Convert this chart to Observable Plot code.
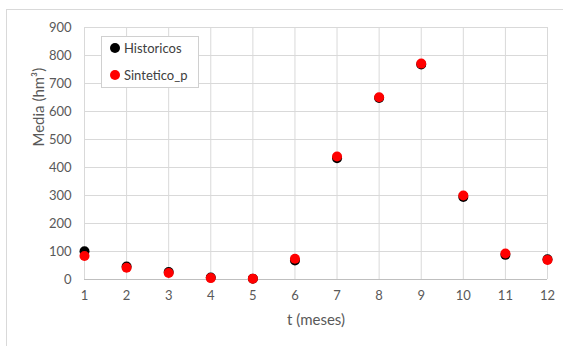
<!DOCTYPE html>
<html>
<head>
<meta charset="utf-8">
<script src="https://cdn.jsdelivr.net/npm/d3@7"></script>
<script src="https://cdn.jsdelivr.net/npm/@observablehq/plot@0.6"></script>
<style>
  html, body { margin: 0; padding: 0; background: #fff; }
  #wrap { position: relative; width: 563px; height: 346px; overflow: hidden; font-family: Lato, "Open Sans", sans-serif; }
  #frame { position: absolute; left: 6px; top: 9px; width: 600px; height: 400px; border: 1px solid #d9d9d9; box-sizing: border-box; }
  #chart { position: absolute; left: 0; top: 0; }
  #legend { position: absolute; left: 101px; top: 36px; width: 98px; height: 52px; border: 1px solid #d0d0d0; background: #fff; box-sizing: border-box; font-size: 13px; color: #404040; }
  .item { position: absolute; left: 8px; display: flex; align-items: center; white-space: nowrap; }
  .dot { width: 10px; height: 10px; border-radius: 50%; margin-right: 4px; }
</style>
</head>
<body>
<div id="wrap">
  <div id="frame"></div>
  <div id="chart"></div>
  <div id="legend"></div>
</div>
<script>
const months = [1, 2, 3, 4, 5, 6, 7, 8, 9, 10, 11, 12];
const historicos = [101, 46, 27, 7, 3, 68, 433, 648, 768, 295, 88, 72];
const sintetico = [84, 42, 23, 5, 3, 74, 439, 651, 771, 300, 93, 70];
const yTicks = [0, 100, 200, 300, 400, 500, 600, 700, 800, 900];
const seriesNames = ["Historicos", "Sintetico_p"];
const seriesColors = ["#000000", "#ff0000"];
const xTitle = "t (meses)";
const yTitle = "Media (hm³)";

const histData = months.map((m, i) => ({t: m, v: historicos[i]}));
const sintData = months.map((m, i) => ({t: m, v: sintetico[i]}));

const chart = Plot.plot({
  width: 563,
  height: 346,
  marginLeft: 84,
  marginRight: 16,
  marginTop: 27,
  marginBottom: 67,
  style: { fontFamily: "Lato, 'Open Sans', sans-serif", fontSize: "13px", color: "#595959", background: "transparent" },
  x: { domain: [1, 12] },
  y: { domain: [0, 900] },
  marks: [
    Plot.ruleX(months, { stroke: "#d9d9d9", strokeOpacity: 1 }),
    Plot.ruleY(yTicks.slice(1), { stroke: "#d9d9d9", strokeOpacity: 1 }),
    Plot.ruleY([0], { stroke: "#bfbfbf", strokeOpacity: 1 }),
    Plot.axisX({ ticks: months, tickSize: 0, tickPadding: 11, fontSize: 13, fill: "#595959", label: null }),
    Plot.axisY({ ticks: yTicks, tickSize: 0, tickPadding: 13, fontSize: 13, fill: "#595959", label: null }),
    Plot.text([xTitle], { frameAnchor: "bottom", dy: 41, fontSize: 15, fill: "#595959", lineAnchor: "middle" }),
    Plot.text([yTitle], { frameAnchor: "left", dx: -45, dy: -7, rotate: -90, fontSize: 15, fill: "#595959", lineAnchor: "middle" }),
    Plot.dot(histData, { x: "t", y: "v", r: 5, fill: seriesColors[0], stroke: "none" }),
    Plot.dot(sintData, { x: "t", y: "v", r: 5, fill: seriesColors[1], stroke: "none" })
  ]
});
document.getElementById("chart").appendChild(chart);

const legend = document.getElementById("legend");
seriesNames.forEach((name, i) => {
  const item = document.createElement("div");
  item.className = "item";
  item.style.top = (i === 0 ? 3 : 30) + "px";
  const dot = document.createElement("span");
  dot.className = "dot";
  dot.style.background = seriesColors[i];
  const txt = document.createElement("span");
  txt.textContent = name;
  item.appendChild(dot);
  item.appendChild(txt);
  legend.appendChild(item);
});
</script>
</body>
</html>
